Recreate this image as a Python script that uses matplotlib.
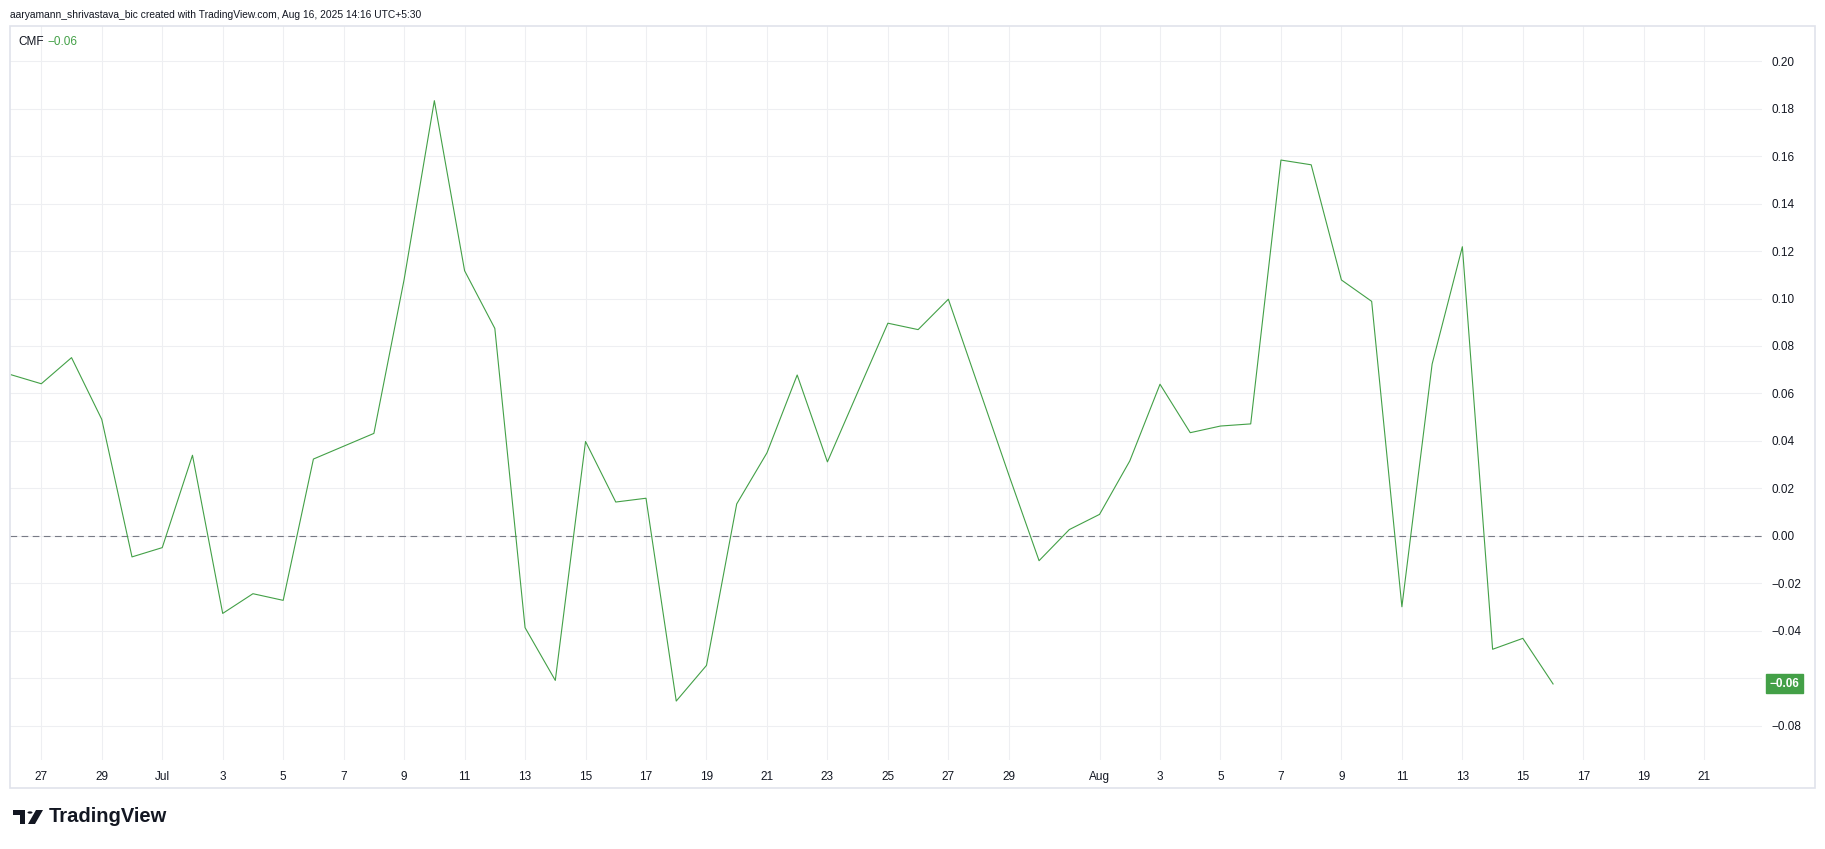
import matplotlib.pyplot as plt
import matplotlib.dates as mdates
from matplotlib.patches import Rectangle, Polygon, Circle
import datetime as dt

# CMF daily values, Jun 26 -> Aug 16 2025
start = dt.date(2025, 6, 26)
cmf = [0.0679, 0.0641, 0.0751, 0.0491, -0.0088, -0.0049, 0.0340, -0.0326,
       -0.0243, -0.0271, 0.0324, 0.0378, 0.0432, 0.1080, 0.1833, 0.1117,
       0.0874, -0.0386, -0.0608, 0.0398, 0.0143, 0.0159, -0.0695, -0.0545,
       0.0135, 0.0350, 0.0678, 0.0312, 0.0605, 0.0896, 0.0869, 0.0997,
       0.0627, 0.0257, -0.0104, 0.0027, 0.0091, 0.0316, 0.0639, 0.0435,
       0.0463, 0.0472, 0.1583, 0.1563, 0.1078, 0.0988, -0.0298, 0.0724,
       0.1218, -0.0477, -0.0431, -0.0623]
dates = [start + dt.timedelta(days=i) for i in range(len(cmf))]

tick_dates = ["2025-06-27", "2025-06-29", "2025-07-01", "2025-07-03", "2025-07-05",
              "2025-07-07", "2025-07-09", "2025-07-11", "2025-07-13", "2025-07-15",
              "2025-07-17", "2025-07-19", "2025-07-21", "2025-07-23", "2025-07-25",
              "2025-07-27", "2025-07-29", "2025-08-01", "2025-08-03", "2025-08-05",
              "2025-08-07", "2025-08-09", "2025-08-11", "2025-08-13", "2025-08-15",
              "2025-08-17", "2025-08-19", "2025-08-21"]
tick_labels = ["27", "29", "Jul", "3", "5", "7", "9", "11", "13", "15", "17", "19",
               "21", "23", "25", "27", "29", "Aug", "3", "5", "7", "9", "11", "13",
               "15", "17", "19", "21"]
yticks = [-0.08, -0.06, -0.04, -0.02, 0.00, 0.02, 0.04, 0.06, 0.08, 0.10,
          0.12, 0.14, 0.16, 0.18, 0.20]
last_label = "\u22120.06"
header = "aaryamann_shrivastava_bic created with TradingView.com, Aug 16, 2025 14:16 UTC+5:30"

GREEN = "#43A047"
TEXT = "#131722"
GRID = "#EEEFF2"
W, H = 1825, 849

plt.rcParams['font.family'] = ['Liberation Sans', 'DejaVu Sans']
plt.rcParams['axes.unicode_minus'] = True

fig = plt.figure(figsize=(W / 100, H / 100), dpi=100)
fig.patch.set_facecolor("white")


def fx(x):
    return x / W


def fy(y):
    return 1 - y / H


ax = fig.add_axes([fx(10), fy(760), fx(1762) - fx(10), fy(26) - fy(760)])
for s in ax.spines.values():
    s.set_visible(False)

x0 = mdates.date2num(start)
ax.set_xlim(x0 - 0.035, x0 + 57.91)
ax.set_ylim(-0.09432, 0.21474)

ax.plot(mdates.date2num(dates), cmf, color=GREEN, lw=0.8, zorder=3)
ax.axhline(0, color="#787B86", lw=0.8, dashes=(6, 4), zorder=2)

ax.set_xticks([mdates.datestr2num(d) for d in tick_dates])
ax.set_xticklabels(tick_labels)
ax.set_yticks(yticks)
ax.set_yticklabels(["\u2212%.2f" % -v if v < 0 else "%.2f" % v for v in yticks])
ax.yaxis.tick_right()
ax.tick_params(axis="x", length=0, pad=8, labelsize=8.5, labelcolor=TEXT)
ax.tick_params(axis="y", length=0, pad=7, labelsize=8.5, labelcolor=TEXT)
ax.grid(True, color=GRID, lw=0.8, zorder=0)
ax.set_axisbelow(True)

# last value tag on price scale (covers the -0.06 scale label like in TradingView)
ax.text(1.0045, cmf[-1], last_label, transform=ax.get_yaxis_transform(),
        ha="left", va="center", color="white", fontsize=8.5, fontweight="bold",
        clip_on=False, zorder=6,
        bbox=dict(boxstyle="square,pad=0.3", fc=GREEN, ec=GREEN))

# borders of the chart frame
fig.add_artist(Rectangle((fx(10), fy(788)), fx(1815) - fx(10), fy(26) - fy(788),
                         transform=fig.transFigure, fill=False, ec="#E0E3EB", lw=1.2))

# header and legend
fig.text(fx(10), fy(15), header, fontsize=7.4, color=TEXT, va="center", ha="left")
fig.text(fx(18), fy(42), "CMF", fontsize=8.5, color=TEXT, va="center", ha="left")
fig.text(fx(47), fy(42), last_label, fontsize=8.5, color=GREEN, va="center", ha="left")

# TradingView watermark
logo_col = TEXT
fig.add_artist(Rectangle((fx(13), fy(815)), fx(25) - fx(13), fy(810) - fy(815),
                         transform=fig.transFigure, fc=logo_col, ec="none"))
fig.add_artist(Rectangle((fx(20), fy(824)), fx(25) - fx(20), fy(810) - fy(824),
                         transform=fig.transFigure, fc=logo_col, ec="none"))
fig.add_artist(Circle((fx(30), fy(812.5)), fx(2.5), transform=fig.transFigure,
                      fc=logo_col, ec="none"))
fig.add_artist(Polygon([(fx(36), fy(810)), (fx(43), fy(810)), (fx(35), fy(824)),
                        (fx(28), fy(824))], closed=True, transform=fig.transFigure,
                       fc=logo_col, ec="none"))
fig.text(fx(49), fy(817), "TradingView", fontsize=14.5, fontweight="bold",
         color=logo_col, va="center", ha="left")

fig.savefig("out.png", dpi=100, facecolor="white")
